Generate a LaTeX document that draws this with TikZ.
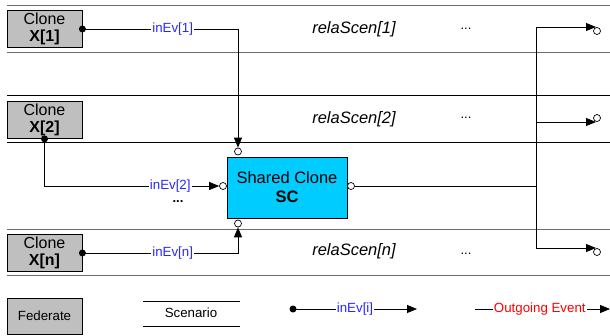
\documentclass[tikz,border=0pt]{standalone}
\usepackage{fontspec}
\setmainfont{Liberation Sans}
\usetikzlibrary{arrows.meta, calc}

\definecolor{scblue}{RGB}{0,204,255}
\definecolor{evblue}{RGB}{40,40,255}
\definecolor{rowgray}{RGB}{110,110,110}

\begin{document}
\begin{tikzpicture}[x=1pt, y=-1pt, line width=0.8pt,
  fed/.style={draw, fill=gray!50, minimum width=75, minimum height=37, inner sep=0pt, align=center, font=\fontsize{16}{17.5}\selectfont},
  port/.style={circle, draw, fill=white, inner sep=0pt, minimum size=7, line width=0.7pt},
  dotnode/.style={circle, fill=black, inner sep=0pt, minimum size=7},
  ev/.style={text=evblue, fill=white, inner sep=1pt, font=\fontsize{13.3}{14}\selectfont},
  evarrow/.style={-{Triangle[length=10pt, width=8pt]}},
  rel/.style={font=\fontsize{16.5}{17}\selectfont\itshape},
  more/.style={font=\fontsize{13}{13}\selectfont}]
\useasboundingbox (0,0) rectangle (610,335);

% scenario rows
\draw[rowgray] (7,5)--(610,5);
\draw[rowgray] (7,52)--(610,52);
\draw (7,95)--(610,95);
\draw (7,142)--(610,142);
\draw[rowgray] (7,229)--(610,229);
\draw[rowgray] (7,275)--(610,275);

\node[rel] (rs1) at (354,29) {relaScen[1]};
\node[rel] (rs2) at (354,119) {relaScen[2]};
\node[rel] (rsn) at (354,251) {relaScen[n]};
\node[more] (m1) at (466,29) {...};
\node[more] (m2) at (466,118) {...};
\node[more] (mn) at (466,254) {...};

% federates
\node[fed] (x1) at (44.5,29) {Clone\\\textbf{X[1]}};
\node[fed] (x2) at (44.5,120) {Clone\\\textbf{X[2]}};
\node[fed] (xn) at (44.5,253) {Clone\\\textbf{X[n]}};

% shared clone
\node[draw, fill=scblue, minimum width=120, minimum height=61, align=center,
  font=\fontsize{16.5}{19}\selectfont] (sc) at (287,187.5) {Shared Clone\\\textbf{SC}};
\node[port] (ptop) at (238,151.5) {};
\node[port] (pleft) at (223,186) {};
\node[port] (pright) at (351,186) {};
\node[port] (pbot) at (238,223.5) {};
\node[more, font=\fontsize{13}{13}\selectfont\bfseries] (mid) at (178,202) {...};

% incoming events
\node[dotnode] (d1) at (x1.east) {};
\node[dotnode] (d2) at (x2.south) {};
\node[dotnode] (dn) at (xn.east) {};
\draw[evarrow] (d1.center) -| node[ev, pos=0.29]{inEv[1]} (ptop.north);
\draw[evarrow] (d2.center) |- node[ev, pos=0.86]{inEv[2]} (pleft.west);
\draw[evarrow] (dn.center) -| node[ev, pos=0.29]{inEv[n]} (pbot.south);

% outgoing events
\coordinate (bus) at (536,186);
\coordinate (o1) at (596,27);
\coordinate (o2) at (596,122);
\coordinate (on) at (596,248);
\draw (pright.east) -- (bus);
\draw[evarrow] (bus) |- (o1);
\draw[evarrow] (bus) |- (o2);
\draw[evarrow] (bus) |- (on);
\node[port] (po1) at (597,31) {};
\node[port] (po2) at (597,118) {};
\node[port] (pon) at (597,252) {};

% legend
\node[fed, minimum height=36, font=\fontsize{13.3}{14}\selectfont] (fd) at (44.5,316) {Federate};
\draw (143,301)--(240,301);
\draw (143,326)--(240,326);
\node[font=\fontsize{13.3}{14}\selectfont] (sn) at (191,313) {Scenario};
\node[dotnode] (ld) at (293,309) {};
\coordinate (le) at (417,309);
\draw[evarrow] (ld.center) -- node[ev]{inEv[i]} (le);
\coordinate (lo) at (475,309);
\coordinate (loe) at (610,309);
\draw[evarrow] (lo) -- node[ev, text=red, pos=0.48]{Outgoing Event} (loe);
\end{tikzpicture}
\end{document}
